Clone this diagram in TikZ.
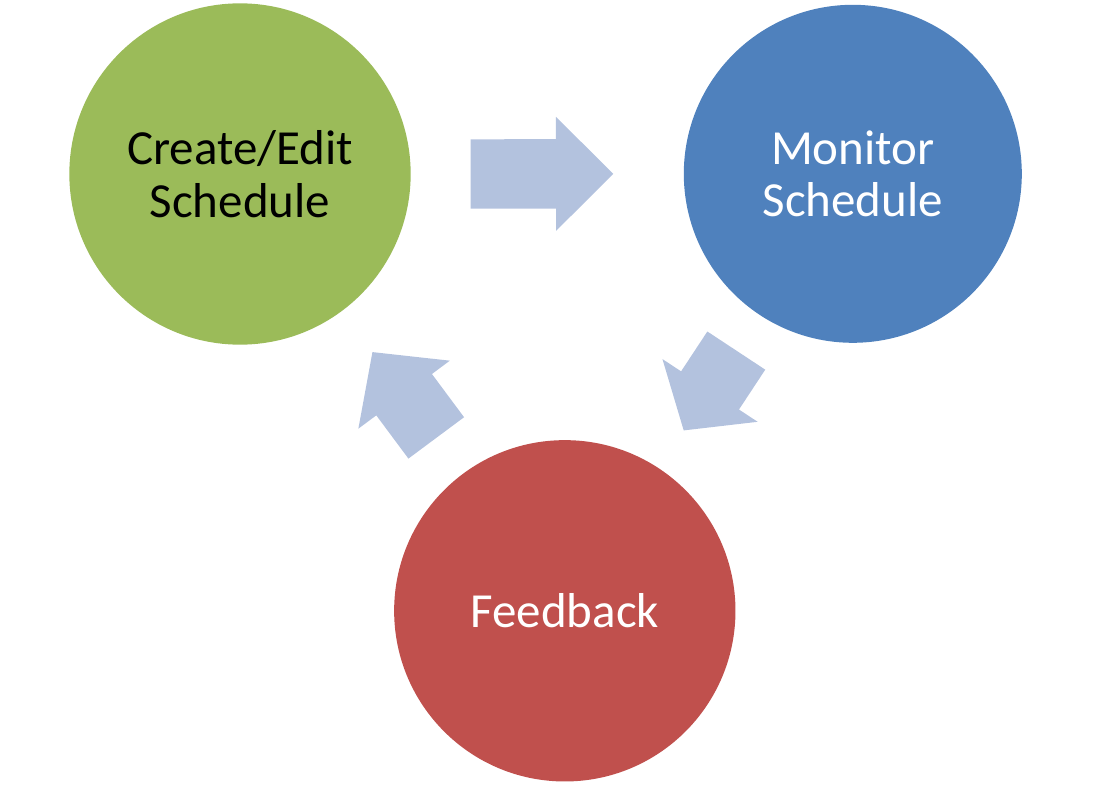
\documentclass[tikz,border=0pt]{standalone}
\usepackage{fontspec}
\setmainfont{Carlito}
\usetikzlibrary{calc}

\definecolor{stagegreen}{RGB}{155,187,89}
\definecolor{stageblue}{RGB}{79,129,189}
\definecolor{stagered}{RGB}{192,80,77}
\definecolor{flowblue}{RGB}{179,194,222}

\tikzset{
  stage/.style={circle, inner sep=0pt, minimum size=256pt, align=center,
    font=\fontsize{36.75pt}{39.5pt}\selectfont},
  flow/.style={fill=flowblue, draw=none}
}

% block arrow: #1 tail, #2 tip, #3 head length
\newcommand{\blockarrow}[3]{%
  \coordinate (hb) at ($(#2)!#3!(#1)$);
  \fill[flow] ($(#1)!26pt!90:(#2)$) -- ($(hb)!26pt!90:(#2)$) -- ($(hb)!42.75pt!90:(#2)$)
    -- (#2) -- ($(hb)!42.75pt!-90:(#2)$) -- ($(hb)!26pt!-90:(#2)$) -- ($(#1)!26pt!-90:(#2)$) -- cycle;
}

\begin{document}
\begin{tikzpicture}[x=0.75pt,y=0.75pt,yscale=-1,xscale=1]
\useasboundingbox (0,0) rectangle (1119,791);

%Shape: Circle
\node (create) [stage, fill=stagegreen, text=black] at (240,174) {Create/Edit\\Schedule};
%Shape: Circle
\node (monitor) [stage, fill=stageblue, text=white, minimum size=253.5pt] at (852.8,173.8) {Monitor\\Schedule};
%Shape: Circle
\node (feedback) [stage, fill=stagered, text=white] at (564.8,610.8) {Feedback};

%Shape: Right Arrow
\coordinate (ra-tail) at ($(create)!173pt!(monitor)$);
\coordinate (ra-tip) at ($(create)!280pt!(monitor)$);
\blockarrow{ra-tail}{ra-tip}{43pt}
%Shape: Right Arrow
\coordinate (da-tail) at ($(monitor)!158.8pt!(feedback)$);
\coordinate (da-tip) at ($(monitor)!230.5pt!(feedback)$);
\blockarrow{da-tail}{da-tip}{35.9pt}
%Shape: Right Arrow
\coordinate (ua-tail) at ($(feedback)!161.6pt!(create)$);
\coordinate (ua-tip) at ($(feedback)!241.8pt!(create)$);
\blockarrow{ua-tail}{ua-tip}{39.8pt}

\end{tikzpicture}
\end{document}
